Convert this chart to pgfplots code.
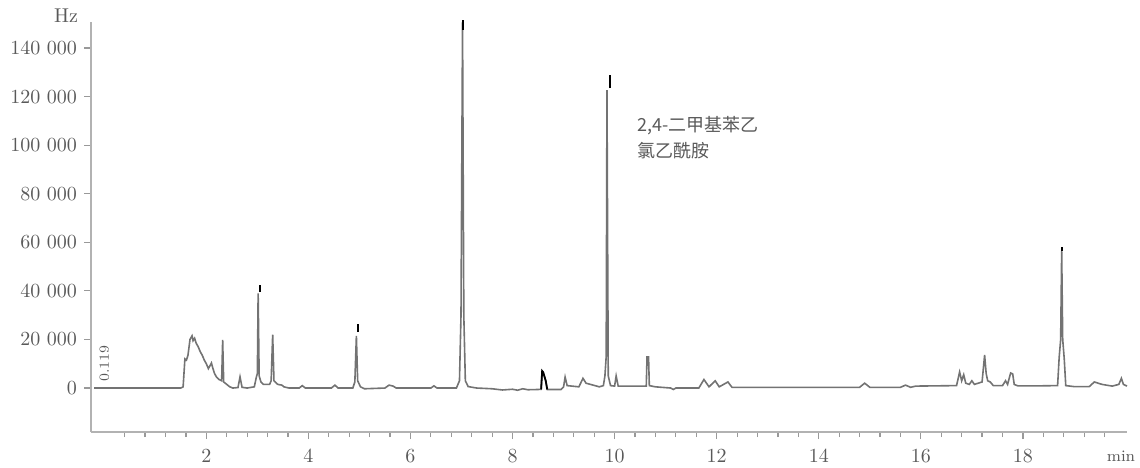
\documentclass[border=0pt]{standalone}
\usepackage{fontspec}
\usepackage{pgfplots}
\pgfplotsset{compat=1.18}
\newfontfamily\cjk{Noto Sans CJK SC}
\definecolor{tracegray}{gray}{0.45}
\definecolor{txtgray}{gray}{0.35}
\begin{document}
\begin{tikzpicture}
\path[use as bounding box] (-45.5pt,-17.5pt) rectangle (524.5pt,216pt);
\begin{axis}[
 scale only axis, width=518pt, height=205pt,
 xmin=-0.26, xmax=20.04, ymin=-18100, ymax=150700,
 axis lines*=left,
 axis line style={gray!60, line width=0.6pt},
 xtick={2,4,...,18}, minor xtick={0.4,0.8,...,19.6},
 ytick={0,20000,...,140000},
 scaled y ticks=false,
 yticklabel style={/pgf/number format/.cd, fixed, 1000 sep={\ }},
 tick align=outside, major tick length=3.5pt, minor tick length=2.5pt,
 major tick style={gray!80, line width=0.6pt},
 minor tick style={gray!80, line width=0.6pt},
 ticklabel style={font=\fontsize{10}{12}\selectfont, text=txtgray},
 xticklabel style={yshift=-2pt},
 clip=false,
 unbounded coords=jump,
]
\addplot[tracegray, line width=0.8pt] coordinates {
(-0.2,0)(1.50,0)(1.545,500)(1.58,12000)(1.61,11500)(1.64,13500)(1.68,20000)(1.72,21500)
(1.74,19500)(1.77,20500)(1.80,18500)(1.84,17000)(1.88,15000)(1.92,13500)(1.96,11500)
(2.00,10000)(2.04,8000)(2.08,9500)(2.10,10300)(2.13,8000)(2.16,6000)(2.20,4500)(2.25,3500)
(2.30,3000)(2.32,19800)(2.34,2500)(2.40,1500)(2.46,500)(2.52,0)(2.62,200)(2.66,4600)
(2.70,300)(2.80,0)(2.94,500)(2.98,4500)(3.00,6000)(3.015,39000)(3.035,5000)(3.07,2500)
(3.12,1500)(3.24,1500)(3.27,3000)(3.30,22000)(3.325,3000)(3.40,1500)(3.48,1200)(3.52,500)
(3.62,0)(3.82,0)(3.88,1000)(3.94,0)(4.45,0)(4.52,1200)(4.58,0)(4.87,0)(4.91,2500)
(4.94,21500)(4.965,3000)(5.02,500)(5.10,-300)(5.50,0)(5.58,1200)(5.66,800)(5.72,0)
(6.40,0)(6.46,900)(6.52,0)(6.90,0)(6.96,3000)(6.99,30000)(7.02,150500)(7.045,30000)
(7.075,3000)(7.13,600)(7.30,0)(7.6,-300)(7.8,-800)(8.0,-500)(8.1,-900)(8.2,-300)(8.3,-700)
(8.5,-600)(8.56,-500)(8.58,7000)(8.60,6500)(8.65,3000)(8.68,-600)(8.95,-600)(9.00,500)
(9.03,4500)(9.07,1000)(9.30,500)(9.38,4000)(9.44,2000)(9.70,500)(9.78,1000)(9.81,5000)
(9.835,13000)(9.85,122700)(9.875,5000)(9.92,1000)(10.00,800)(10.03,5000)(10.07,800)
(10.62,800)(10.635,12800)(10.665,12800)(10.68,1000)(10.80,500)(11.10,0)(11.15,-600)
(11.20,0)(11.65,0)(11.75,3500)(11.85,500)(11.97,3000)(12.05,500)(12.22,2500)(12.3,300)
(14.8,300)(14.9,2000)(15.0,300)(15.6,300)(15.7,1200)(15.8,300)(15.9,800)(16.7,1000)
(16.76,6600)(16.80,3000)(16.84,5500)(16.88,2000)(16.95,1500)(17.0,3000)(17.05,1500)
(17.20,2500)(17.25,13600)(17.28,6000)(17.31,3000)(17.36,2500)(17.42,1000)(17.6,1000)
(17.66,3000)(17.70,1500)(17.76,6200)(17.80,5800)(17.83,1500)(17.9,900)(18.3,900)
(18.68,1000)(18.71,12400)(18.74,20000)(18.76,56400)(18.78,20000)(18.81,12000)(18.84,1000)
(19.0,600)(19.3,600)(19.40,2500)(19.55,1500)(19.75,800)(19.88,1500)(19.93,4000)(19.97,1500)
(20.04,800)
};
\addplot[black, line width=0.9pt] coordinates {
(8.56,-500)(8.58,7000)(8.60,6500)(8.65,3000)(8.68,-600)
};
\addplot[black, line width=1pt] coordinates {
(3.06,39500)(3.06,42500)(3.06,nan)
(4.97,23000)(4.97,26500)(4.97,nan)
(7.02,147500)(7.02,151500)(7.02,nan)
(9.90,123500)(9.90,129000)(9.90,nan)
(18.77,56500)(18.77,58000)
};
\node[anchor=south east, font=\fontsize{10}{12}\selectfont, text=txtgray, xshift=-3pt, yshift=-4pt] at (rel axis cs:0,1) {Hz};
\node[font=\fontsize{8}{10}\selectfont, text=txtgray, xshift=-3pt, yshift=-12pt] at (rel axis cs:1,0) {min};
\node[rotate=90, font=\fontsize{7}{8}\selectfont, text=txtgray] at (axis cs:0,10000) {0.119};
\node[anchor=north west, align=left, font=\cjk\fontsize{9}{13}\selectfont, text=txtgray, inner sep=0pt] at (axis cs:10.44,112000) {2,4-二甲基苯乙\\氯乙酰胺};
\end{axis}
\end{tikzpicture}
\end{document}
